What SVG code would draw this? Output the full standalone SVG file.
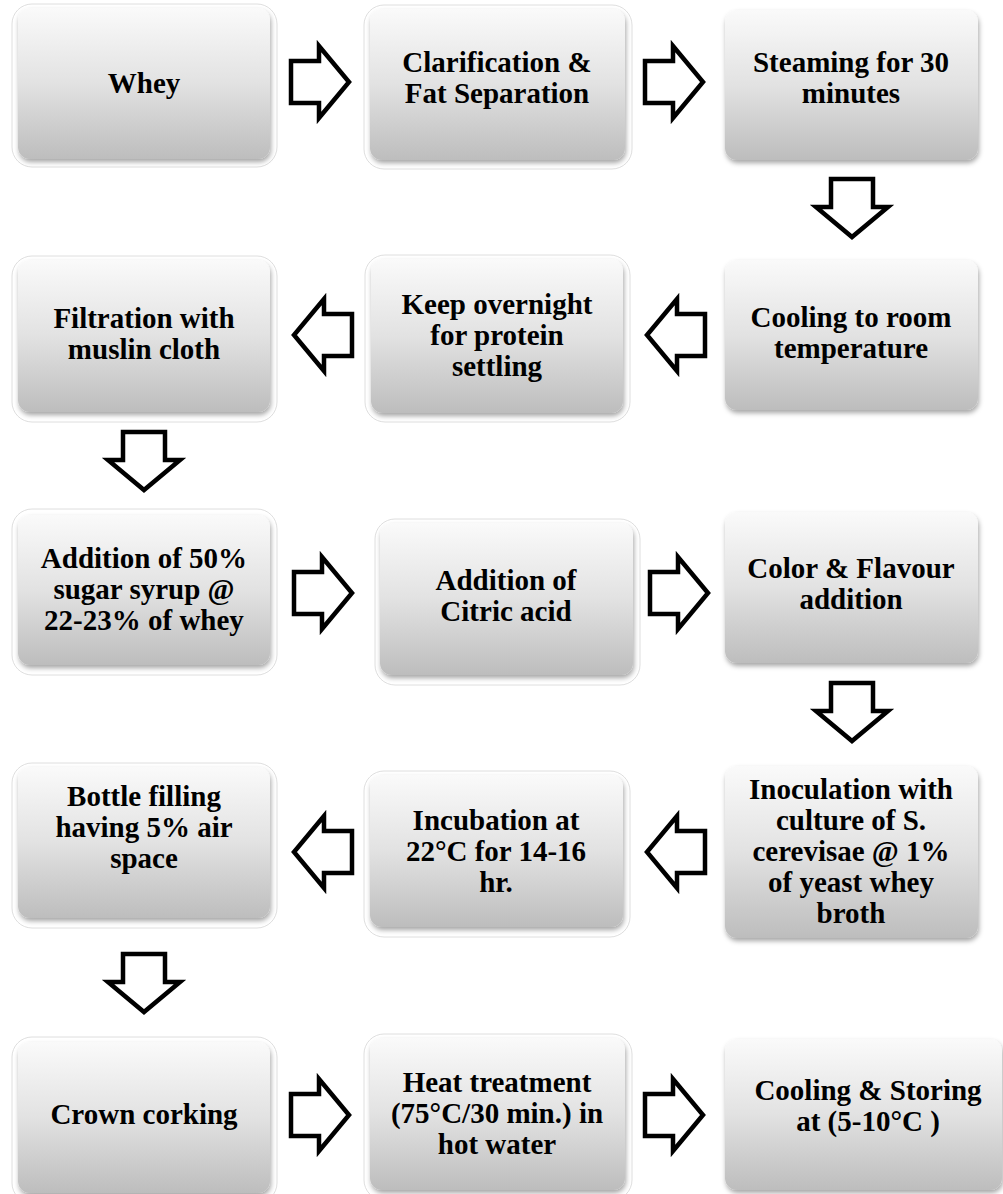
<svg xmlns="http://www.w3.org/2000/svg" xmlns:xlink="http://www.w3.org/1999/xlink" width="1003" height="1194" viewBox="0 0 1003 1194">
<defs>
<linearGradient id="g" x1="0" y1="0" x2="0" y2="1">
<stop offset="0" stop-color="#fafafa"/>
<stop offset="0.5" stop-color="#e2e2e2"/>
<stop offset="1" stop-color="#bdbdbd"/>
</linearGradient>
<filter id="sh" x="-10%" y="-10%" width="125%" height="130%">
<feDropShadow dx="1" dy="3" stdDeviation="2.5" flood-color="#000" flood-opacity="0.35"/>
</filter>
<path id="arr" d="M0,-21 L28,-21 L28,-36 L58,0 L28,36 L28,21 L0,21 Z"/>
</defs>
<style>
.box{fill:url(#g);filter:url(#sh);}
.ring{fill:none;stroke:#d6d6d6;stroke-width:0.8;}
.t{font-family:'Liberation Serif','Times New Roman',Tinos,Times,'DejaVu Serif',serif;font-weight:700;font-size:29px;fill:#000;text-anchor:middle;}
.a{fill:#fff;stroke:#000;stroke-width:4.5;stroke-linejoin:miter;}
</style>
<rect width="1003" height="1194" fill="#fff"/>

<g id="n1"><rect class="ring" x="12" y="4" width="265" height="163" rx="20"/><rect class="box" x="18" y="8" width="252" height="151" rx="12"/><text class="t" x="144" y="93">Whey</text></g>
<g id="n2"><rect class="ring" x="364" y="5" width="268" height="164" rx="20"/><rect class="box" x="370" y="9" width="255" height="151" rx="12"/><text class="t"><tspan x="497" y="72">Clarification &amp;</tspan><tspan x="497" y="103">Fat Separation</tspan></text></g>
<g id="n3"><rect class="box" x="725" y="10" width="253" height="150" rx="12"/><text class="t"><tspan x="851" y="72">Steaming for 30</tspan><tspan x="851" y="103">minutes</tspan></text></g>

<g id="n4"><rect class="ring" x="12" y="256" width="265" height="166" rx="20"/><rect class="box" x="18" y="260" width="252" height="152" rx="12"/><text class="t"><tspan x="144" y="328">Filtration with</tspan><tspan x="144" y="359">muslin cloth</tspan></text></g>
<g id="n5"><rect class="ring" x="365" y="255" width="265" height="167" rx="20"/><rect class="box" x="371" y="259" width="252" height="154" rx="12"/><text class="t"><tspan x="497" y="314">Keep overnight</tspan><tspan x="497" y="345">for protein</tspan><tspan x="497" y="376">settling</tspan></text></g>
<g id="n6"><rect class="box" x="725" y="260" width="253" height="150" rx="12"/><text class="t"><tspan x="851" y="327">Cooling to room</tspan><tspan x="851" y="358">temperature</tspan></text></g>

<g id="n7"><rect class="ring" x="12" y="509" width="265" height="166" rx="20"/><rect class="box" x="18" y="515" width="252" height="150" rx="12"/><text class="t"><tspan x="144" y="568">Addition of 50%</tspan><tspan x="144" y="599">sugar syrup @</tspan><tspan x="144" y="630">22-23% of whey</tspan></text></g>
<g id="n8"><rect class="ring" x="375" y="519" width="265" height="166" rx="20"/><rect class="box" x="380" y="523" width="253" height="152" rx="12"/><text class="t"><tspan x="506" y="590">Addition of</tspan><tspan x="506" y="621">Citric acid</tspan></text></g>
<g id="n9"><rect class="box" x="725" y="512" width="253" height="151" rx="12"/><text class="t"><tspan x="851" y="578">Color &amp; Flavour</tspan><tspan x="851" y="609">addition</tspan></text></g>

<g id="n10"><rect class="ring" x="12" y="763" width="265" height="165" rx="20"/><rect class="box" x="18" y="767" width="252" height="151" rx="12"/><text class="t"><tspan x="144" y="806">Bottle filling</tspan><tspan x="144" y="837">having 5% air</tspan><tspan x="144" y="868">space</tspan></text></g>
<g id="n11"><rect class="ring" x="364" y="771" width="266" height="166" rx="20"/><rect class="box" x="370" y="775" width="253" height="152" rx="12"/><text class="t"><tspan x="496" y="830">Incubation at</tspan><tspan x="496" y="861">22°C for 14-16</tspan><tspan x="496" y="892">hr.</tspan></text></g>
<g id="n12"><rect class="box" x="725" y="766" width="253" height="172" rx="12"/><text class="t"><tspan x="851" y="799">Inoculation with</tspan><tspan x="851" y="830">culture of S.</tspan><tspan x="851" y="861">cerevisae @ 1%</tspan><tspan x="851" y="892">of yeast whey</tspan><tspan x="851" y="923">broth</tspan></text></g>

<g id="n13"><rect class="ring" x="12" y="1037" width="265" height="166" rx="20"/><rect class="box" x="18" y="1042" width="252" height="151" rx="12"/><text class="t" x="144" y="1124">Crown corking</text></g>
<g id="n14"><rect class="ring" x="364" y="1034" width="268" height="166" rx="20"/><rect class="box" x="370" y="1038" width="255" height="152" rx="12"/><text class="t"><tspan x="497" y="1092">Heat treatment</tspan><tspan x="497" y="1123">(75°C/30 min.) in</tspan><tspan x="497" y="1154">hot water</tspan></text></g>
<g id="n15"><rect class="box" x="725" y="1039" width="277" height="151" rx="12"/><text class="t"><tspan x="868" y="1100">Cooling &amp; Storing</tspan><tspan x="868" y="1131">at (5-10°C )</tspan></text></g>

<g id="connectors">
<use xlink:href="#arr" class="a" transform="translate(291,82)"/>
<use xlink:href="#arr" class="a" transform="translate(645,82)"/>
<use xlink:href="#arr" class="a" transform="translate(852,179) rotate(90)"/>
<use xlink:href="#arr" class="a" transform="translate(705,335) scale(-1,1)"/>
<use xlink:href="#arr" class="a" transform="translate(352,335) scale(-1,1)"/>
<use xlink:href="#arr" class="a" transform="translate(144,432) rotate(90)"/>
<use xlink:href="#arr" class="a" transform="translate(294,593)"/>
<use xlink:href="#arr" class="a" transform="translate(650,593)"/>
<use xlink:href="#arr" class="a" transform="translate(852,683) rotate(90)"/>
<use xlink:href="#arr" class="a" transform="translate(705,852) scale(-1,1)"/>
<use xlink:href="#arr" class="a" transform="translate(352,852) scale(-1,1)"/>
<use xlink:href="#arr" class="a" transform="translate(144,954) rotate(90)"/>
<use xlink:href="#arr" class="a" transform="translate(291,1115)"/>
<use xlink:href="#arr" class="a" transform="translate(645,1115)"/>
</g>
</svg>
